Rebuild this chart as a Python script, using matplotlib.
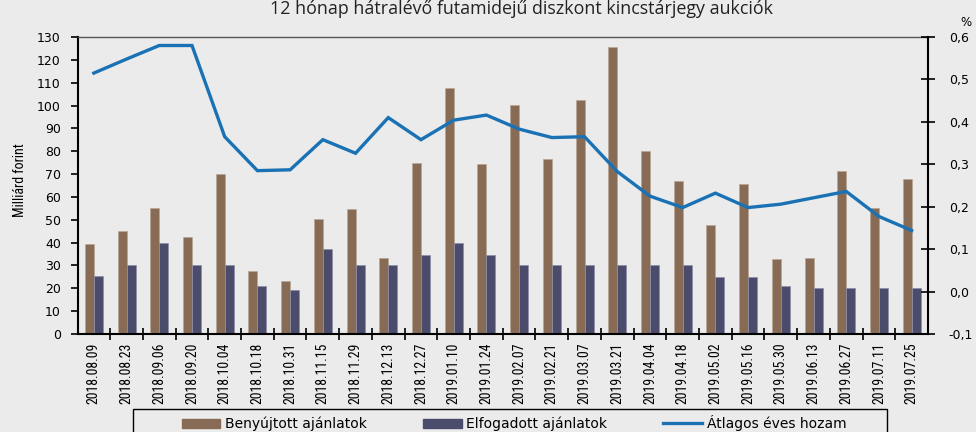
import matplotlib
matplotlib.use("Agg")
import matplotlib.pyplot as plt
import numpy as np
from matplotlib.patches import Rectangle
from matplotlib.lines import Line2D
from matplotlib.ticker import FuncFormatter, FixedLocator
from matplotlib import font_manager as fm

dates = ["2018.08.09", "2018.08.23", "2018.09.06", "2018.09.20", "2018.10.04",
         "2018.10.18", "2018.10.31", "2018.11.15", "2018.11.29", "2018.12.13",
         "2018.12.27", "2019.01.10", "2019.01.24", "2019.02.07", "2019.02.21",
         "2019.03.07", "2019.03.21", "2019.04.04", "2019.04.18", "2019.05.02",
         "2019.05.16", "2019.05.30", "2019.06.13", "2019.06.27", "2019.07.11",
         "2019.07.25"]
submitted = [39.3, 45.1, 55.0, 42.4, 69.9, 27.7, 23.1, 50.4, 54.9, 33.2,
             74.7, 107.6, 74.2, 100.4, 76.6, 102.6, 125.8, 80.1, 67.1, 47.7,
             65.8, 32.9, 33.3, 71.2, 55.0, 68.0]
accepted = [25.6, 30, 39.7, 30, 30, 20.8, 19.4, 37.0, 30, 30,
            34.6, 39.7, 34.6, 30, 30, 30, 30, 30, 30, 25,
            25, 21.1, 20, 20, 20, 20]
avg_yield = [0.515, 0.548, 0.580, 0.580, 0.365, 0.285, 0.287, 0.358, 0.326, 0.410,
             0.358, 0.404, 0.416, 0.383, 0.363, 0.365, 0.283, 0.225, 0.198, 0.232,
             0.198, 0.206, 0.221, 0.236, 0.177, 0.144]

title = "12 hónap hátralévő futamidejű diszkont kincstárjegy aukciók"
series_names = ["Benyújtott ajánlatok", "Elfogadott ajánlatok", "Átlagos éves hozam"]
ylabel = "Milliárd forint"

BG = "#EBEBEB"
C_SUB = "#876B55"
C_ACC = "#4B4C6C"
C_LINE = "#1A72B5"

# find a condensed / narrow font if one is installed
def find_narrow():
    prefs = ["Liberation Sans Narrow", "Roboto Condensed", "Open Sans Condensed",
             "Noto Sans Condensed", "DejaVu Sans Condensed"]
    cands = []
    for f in fm.fontManager.ttflist:
        name = f.name
        stretch = str(f.stretch).lower()
        fn = f.fname.lower()
        is_narrow = ("narrow" in name.lower() or "condensed" in name.lower()
                     or "condensed" in stretch or "narrow" in fn or "condensed" in fn
                     or (isinstance(f.stretch, int) and f.stretch < 500))
        if is_narrow and f.style == "normal" and f.weight in (400, "normal", "regular"):
            if "semi" in fn or "extra" in fn or "ultra" in fn:
                continue
            cands.append(f)
    if not cands:
        return None
    def score(f):
        for i, p in enumerate(prefs):
            if p.lower().replace(" ", "") in (f.name + f.fname).lower().replace(" ", "").replace("-", ""):
                return i
        return len(prefs)
    cands.sort(key=score)
    return cands[0].fname

narrow_path = find_narrow()
if narrow_path:
    NARROW = lambda size: fm.FontProperties(fname=narrow_path, size=size)
else:
    NARROW = lambda size: fm.FontProperties(family="DejaVu Sans", size=size * 0.85)

W, H = 976, 432
fig = plt.figure(figsize=(W / 100, H / 100), dpi=100, facecolor=BG)

def fx(px):
    return px / W

def fy(py):
    return 1 - py / H

ax = fig.add_axes([fx(77.5), fy(334), fx(928) - fx(77.5), fy(37) - fy(334)])
ax.set_facecolor(BG)

x = np.arange(len(dates))
bw = 0.275
ax.bar(x - bw / 2, submitted, width=bw, color=C_SUB, edgecolor="#B9A794", linewidth=0.5, zorder=2)
ax.bar(x + bw / 2, accepted, width=bw, color=C_ACC, edgecolor="#8E8FA8", linewidth=0.5, zorder=2)
ax.set_xlim(-0.5, len(dates) - 0.5)
ax.set_ylim(0, 130)
ax.set_yticks(np.arange(0, 131, 10))
ax.tick_params(axis="y", direction="out", length=5, width=1.2, pad=7, labelsize=9, colors="black")

ax.set_xticks(x)
ax.set_xticklabels(dates, rotation=90, fontproperties=NARROW(10))
ax.tick_params(axis="x", which="major", length=0, pad=6)
ax.xaxis.set_minor_locator(FixedLocator(np.arange(0.5, len(dates) - 0.5, 1.0)))
ax.tick_params(axis="x", which="minor", direction="inout", length=8, width=1.2)

for s in ["left", "bottom"]:
    ax.spines[s].set_color("black")
    ax.spines[s].set_linewidth(1.5)
ax.spines["top"].set_color("#555555")
ax.spines["top"].set_linewidth(1.0)
ax.spines["right"].set_visible(False)

ax2 = ax.twinx()
ax2.plot(x, avg_yield, color=C_LINE, linewidth=2.4, zorder=3, solid_joinstyle="miter")
ax2.set_ylim(-0.1, 0.6)
ax2.set_yticks(np.round(np.arange(-0.1, 0.61, 0.1), 1))
ax2.yaxis.set_major_formatter(FuncFormatter(lambda v, p: f"{v:.1f}".replace(".", ",").replace("-0,0", "0,0")))
ax2.tick_params(axis="y", direction="inout", length=10, width=1.2, pad=10, labelsize=9)
for s in ["left", "bottom", "top"]:
    ax2.spines[s].set_visible(False)
ax2.spines["right"].set_color("black")
ax2.spines["right"].set_linewidth(1.5)

fig.text(fx(521), fy(13.8), title, ha="center", va="baseline", fontsize=12.9,
         family=["Open Sans", "DejaVu Sans"], color="#222222")
fig.text(fx(966), fy(22), "%", ha="center", va="center", fontsize=8.5)
fig.text(fx(20), fy(180), ylabel, rotation=90, ha="center", va="center", fontproperties=NARROW(10))

fig.patches.append(Rectangle((fx(133), fy(445)), fx(887) - fx(133), fy(409) - fy(445),
                             transform=fig.transFigure, fill=False, edgecolor="black",
                             linewidth=1.0, zorder=5))
handles = [Rectangle((0, 0), 1, 1, color=C_SUB), Rectangle((0, 0), 1, 1, color=C_ACC),
           Line2D([0], [0], color=C_LINE, linewidth=2.4)]
fig.legend(handles, series_names, loc="center", bbox_to_anchor=(fx(514), fy(423)),
           ncol=3, frameon=False, fontsize=10, handlelength=2.8, handletextpad=0.35,
           columnspacing=4.0, handleheight=0.6)

fig.savefig("out.png", dpi=100, facecolor=BG)
